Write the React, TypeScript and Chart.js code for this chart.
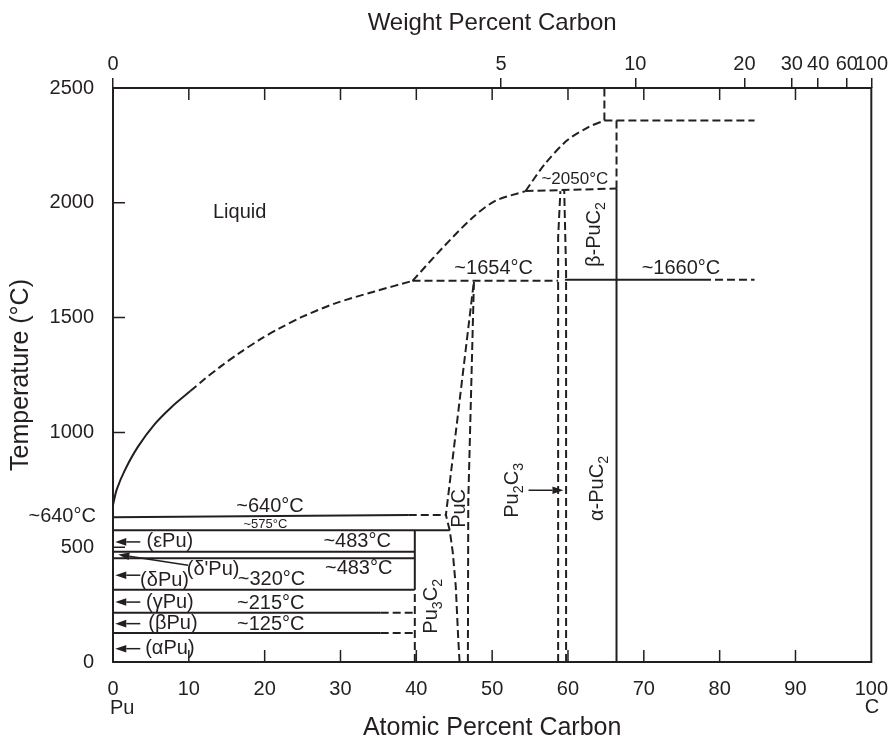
import React, { useEffect, useRef } from 'react';
import { Chart, registerables } from 'chart.js';

Chart.register(...registerables);

const FONT = '"Liberation Sans", Arial, Helvetica, sans-serif';
const INK = '#231f20';

// ---- axes ----
const atomicTicks = [0, 10, 20, 30, 40, 50, 60, 70, 80, 90, 100];
const tempTicks = [0, 500, 1000, 1500, 2000, 2500];
const weightTickLabels = [0, 5, 10, 20, 30, 40, 60, 100];
const innerAtomicTicks = [10, 20, 30, 40, 50, 60, 70, 80, 90];
const innerTempTicks = [500, 1000, 1500, 2000];
const M_PU = 239;
const M_C = 12;

// ---- phase boundaries: [atomic % C, °C] ----
const liquidusSolid = [[0, 684], [0.5, 752], [1.6, 838], [3.3, 938], [5.5, 1036], [7.7, 1110], [10.2, 1180]];
const liquidusDashed = [[10.2, 1180], [12, 1230], [14, 1282], [16.5, 1342], [19.4, 1405], [22, 1454], [25, 1504], [29.4, 1563], [34.5, 1614], [39.5, 1660]];
const liquidusUpperA = [[39.5, 1660], [43.5, 1805], [47.4, 1935], [50.4, 2008], [54.4, 2051]];
const liquidusUpperB = [[54.4, 2051], [57, 2171], [59.9, 2272], [62.7, 2330], [64.8, 2358]];
const line1654 = [[39.5, 1660], [58.7, 1660]];
const line1660Solid = [[59.6, 1665], [77.8, 1665]];
const line1660Dashed = [[77.8, 1665], [84.6, 1665]];
const line2050 = [[54.4, 2051], [66.4, 2062]];
const line2358 = [[64.8, 2358], [84.6, 2358]];
const vertical2358 = [[64.8, 2358], [64.8, 2500]];
const alphaPuC2Solid = [[66.4, 0], [66.4, 2062]];
const alphaPuC2Dashed = [[66.4, 2062], [66.4, 2358]];
const pu2c3Left = [[58.7, 0], [58.7, 1850], [59.0, 2051]];
const pu2c3Right = [[59.75, 0], [59.75, 1700], [59.5, 2057]];
const pucLeft = [[45.7, 0], [45.5, 120], [45.2, 330], [44.8, 480], [44.4, 574], [43.9, 640], [47.6, 1660]];
const pucRight = [[46.8, 0], [46.85, 700], [47.6, 1660]];
const pu3c2Solid = [[39.8, 315], [39.8, 574]];
const pu3c2Dashed = [[39.8, 0], [39.8, 315]];
const line640Solid = [[0, 630], [39, 640]];
const line640Dashed = [[39, 640], [43.9, 640]];
const line575 = [[0, 574], [44.4, 574]];
const line483 = [[0, 480], [39.8, 480]];
const line463 = [[0, 452], [39.8, 452]];
const line320 = [[0, 315], [39.8, 315]];
const line215Solid = [[0, 215], [35.3, 215]];
const line215Dashed = [[35.3, 215], [39.8, 215]];
const line125Solid = [[0, 126], [35.3, 126]];
const line125Dashed = [[35.3, 126], [39.8, 126]];

const solidLines = [liquidusSolid, line1660Solid, alphaPuC2Solid, pu3c2Solid, line640Solid, line575, line483, line463, line320, line215Solid, line125Solid];
const dashedLines = [liquidusDashed, liquidusUpperA, liquidusUpperB, line1654, line1660Dashed, line2050, line2358, vertical2358, alphaPuC2Dashed, pu2c3Left, pu2c3Right, pucLeft, pucRight, pu3c2Dashed, line640Dashed, line215Dashed, line125Dashed];
const curvedLines = [liquidusSolid, liquidusDashed, liquidusUpperA, liquidusUpperB];

// ---- text annotations: [text, atomic % C, °C] ----
const labelsLarge = [
  ['Liquid', 16.7, 1958],
  ['~1654°C', 50.2, 1714],
  ['~1660°C', 74.9, 1714],
  ['~640°C', 20.7, 678],
  ['~640°C', -6.7, 635],
  ['(εPu)', 7.5, 523],
  ['~483°C', 32.2, 523],
  ["(δ'Pu)", 13.2, 403],
  ['~483°C', 32.4, 408],
  ['(δPu)', 6.8, 356],
  ['~320°C', 20.9, 360],
  ['(γPu)', 7.5, 261],
  ['~215°C', 20.8, 257],
  ['(βPu)', 7.9, 169],
  ['~125°C', 20.8, 164],
  ['(αPu)', 7.5, 60],
  ['C', 100.1, -200],
];
const labelsMedium = [['~2050°C', 60.9, 2101]];
const labelsSmall = [['~575°C', 20.1, 600]];
const labelsLeft = [['Pu', -0.4, -204]];
const labelsVertical = [
  ['β-PuC_2', 63.5, 1862],
  ['α-PuC_2', 63.9, 756],
  ['Pu_2C_3', 52.7, 748],
  ['PuC', 45.7, 669],
  ['Pu_3C_2', 42.0, 243],
];
// arrows: [from at%, from °C, to at%, to °C]
const arrows = [
  [3.6, 523, 0.3, 523],
  [9.9, 421, 0.7, 468],
  [3.6, 378, 0.3, 378],
  [3.6, 261, 0.3, 261],
  [3.6, 167, 0.3, 167],
  [3.6, 58, 0.3, 58],
  [54.8, 748, 59.4, 748],
];

const wtToAt = (w: number) => (w >= 100 ? 100 : ((w / M_C) / (w / M_C + (100 - w) / M_PU)) * 100);
const toXY = (arr: number[][]) => arr.map(([x, y]) => ({ x, y }));

function drawRich(ctx: CanvasRenderingContext2D, text: string, x: number, y: number, size: number, vertical: boolean, align: string) {
  const parts = text.split(/_(\w)/);
  const segs = parts.map((t, i) => ({ t, sub: i % 2 === 1 })).filter((s) => s.t.length > 0);
  const subSize = size * 0.72;
  ctx.save();
  ctx.translate(x, y);
  if (vertical) ctx.rotate(-Math.PI / 2);
  let total = 0;
  const widths = segs.map((s) => {
    ctx.font = `${s.sub ? subSize : size}px ${FONT}`;
    const w = ctx.measureText(s.t).width;
    total += w;
    return w;
  });
  let cx = align === 'left' ? 0 : -total / 2;
  ctx.fillStyle = INK;
  ctx.textBaseline = 'middle';
  ctx.textAlign = 'left';
  segs.forEach((s, i) => {
    ctx.font = `${s.sub ? subSize : size}px ${FONT}`;
    ctx.fillText(s.t, cx, s.sub ? size * 0.32 : 0);
    cx += widths[i];
  });
  ctx.restore();
}

const decorPlugin = {
  id: 'decor',
  afterDraw(chart: any) {
    const { ctx, chartArea } = chart;
    const xs = chart.scales.x;
    const ys = chart.scales.y;
    const { left, right, top, bottom } = chartArea;
    ctx.save();
    ctx.strokeStyle = INK;
    ctx.lineWidth = 2;
    ctx.strokeRect(left, top, right - left, bottom - top);
    ctx.lineWidth = 1.5;
    ctx.beginPath();
    innerAtomicTicks.forEach((v) => {
      const px = xs.getPixelForValue(v);
      ctx.moveTo(px, bottom);
      ctx.lineTo(px, bottom - 12);
      ctx.moveTo(px, top);
      ctx.lineTo(px, top + 12);
    });
    innerTempTicks.forEach((v) => {
      const py = ys.getPixelForValue(v);
      ctx.moveTo(left, py);
      ctx.lineTo(left + 12, py);
    });
    ctx.stroke();

    // arrows
    ctx.fillStyle = INK;
    ctx.lineWidth = 1.5;
    arrows.forEach(([x1, y1, x2, y2]) => {
      const ax = xs.getPixelForValue(x1), ay = ys.getPixelForValue(y1);
      const bx = xs.getPixelForValue(x2), by = ys.getPixelForValue(y2);
      const ang = Math.atan2(by - ay, bx - ax);
      const hl = 11, hw = 3.8;
      const baseX = bx - hl * Math.cos(ang), baseY = by - hl * Math.sin(ang);
      ctx.beginPath();
      ctx.moveTo(ax, ay);
      ctx.lineTo(baseX, baseY);
      ctx.stroke();
      ctx.beginPath();
      ctx.moveTo(bx, by);
      ctx.lineTo(baseX + hw * Math.sin(ang), baseY - hw * Math.cos(ang));
      ctx.lineTo(baseX - hw * Math.sin(ang), baseY + hw * Math.cos(ang));
      ctx.closePath();
      ctx.fill();
    });

    const put = (list: any[], size: number, vertical: boolean, align: string) => {
      list.forEach(([t, x, y]) => drawRich(ctx, t, xs.getPixelForValue(x), ys.getPixelForValue(y), size, vertical, align));
    };
    put(labelsLarge, 20, false, 'center');
    put(labelsMedium, 17, false, 'center');
    put(labelsSmall, 13, false, 'center');
    put(labelsLeft, 20, false, 'left');
    put(labelsVertical, 20, true, 'center');
    ctx.restore();
  },
};

export default function App() {
  const ref = useRef<HTMLCanvasElement | null>(null);
  useEffect(() => {
    if (!ref.current) return;
    Chart.defaults.font.family = FONT;
    Chart.defaults.color = INK;
    const datasets: any[] = [];
    const add = (d: number[][], dashed: boolean) => {
      datasets.push({
        data: toXY(d),
        showLine: true,
        borderColor: INK,
        borderWidth: 2,
        borderDash: dashed ? [8, 4] : [],
        pointRadius: 0,
        fill: false,
        tension: curvedLines.includes(d) ? 0.3 : 0,
      });
    };
    solidLines.forEach((d) => add(d, false));
    dashedLines.forEach((d) => add(d, true));
    const chart = new Chart(ref.current, {
      type: 'scatter',
      data: { datasets },
      plugins: [decorPlugin],
      options: {
        animation: false,
        responsive: true,
        maintainAspectRatio: false,
        layout: { padding: { left: 0, right: 21, top: 0, bottom: 0 } },
        plugins: { legend: { display: false }, tooltip: { enabled: false } },
        scales: {
          x: {
            type: 'linear',
            position: 'bottom',
            min: 0,
            max: 100,
            afterBuildTicks: (s: any) => {
              s.ticks = atomicTicks.map((v) => ({ value: v }));
            },
            afterFit: (s: any) => {
              s.height = 76;
            },
            ticks: {
              autoSkip: false,
              maxRotation: 0,
              padding: 7,
              font: { size: 20 },
              color: INK,
              callback: (v: any) => String(v),
            },
            grid: { display: false },
            border: { display: false },
            title: {
              display: true,
              text: 'Atomic Percent Carbon',
              font: { size: 25 },
              color: INK,
              padding: { top: 0, bottom: -5 },
            },
          },
          x2: {
            type: 'linear',
            position: 'top',
            min: 0,
            max: 100,
            afterBuildTicks: (s: any) => {
              s.ticks = weightTickLabels.map((w) => ({ value: wtToAt(w) }));
            },
            afterFit: (s: any) => {
              s.height = 88;
            },
            ticks: {
              autoSkip: false,
              maxRotation: 0,
              padding: 2,
              font: { size: 20 },
              color: INK,
              callback: (_v: any, i: number) => String(weightTickLabels[i]),
            },
            grid: { display: true, drawOnChartArea: false, drawTicks: true, tickLength: 10, color: INK, lineWidth: 1.5 },
            border: { display: false },
            title: {
              display: true,
              text: 'Weight Percent Carbon',
              font: { size: 24 },
              color: INK,
              padding: { top: 9, bottom: 0 },
            },
          },
          y: {
            type: 'linear',
            position: 'left',
            min: 0,
            max: 2500,
            afterBuildTicks: (s: any) => {
              s.ticks = tempTicks.map((v) => ({ value: v }));
            },
            afterFit: (s: any) => {
              s.width = 113;
            },
            ticks: { padding: 11, font: { size: 20 }, color: INK, callback: (v: any) => String(v) },
            grid: { display: false },
            border: { display: false },
            title: {
              display: true,
              text: 'Temperature (°C)',
              font: { size: 25 },
              color: INK,
              padding: { top: 6, bottom: 0 },
            },
          },
        },
      } as any,
    });
    return () => chart.destroy();
  }, []);
  return (
    <div style={{ position: 'absolute', left: 0, top: 0, width: 895, height: 738, background: '#fff' }}>
      <canvas ref={ref} />
    </div>
  );
}
